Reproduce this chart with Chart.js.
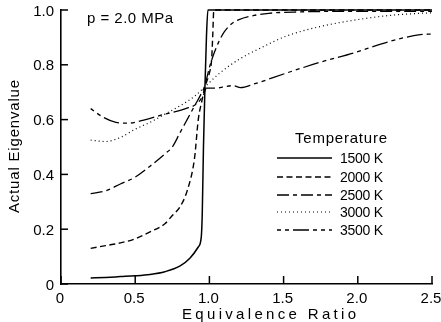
<!DOCTYPE html>
<html>
<head>
<meta charset="utf-8">
<script src="https://cdn.jsdelivr.net/npm/chart.js@4"></script>
<style>
  html, body { margin: 0; padding: 0; background: #fff; }
</style>
</head>
<body>
<canvas id="chart" width="441" height="322"></canvas>
<script>
// axis ticks
const xTicks = [0, 0.5, 1.0, 1.5, 2.0, 2.5];
const xTickLabels = ['0', '0.5', '1.0', '1.5', '2.0', '2.5'];
const yTicks = [0, 0.2, 0.4, 0.6, 0.8, 1.0];
const yTickLabels = ['0', '0.2', '0.4', '0.6', '0.8', '1.0'];

const temperatures = ['1500 K', '2000 K', '2500 K', '3000 K', '3500 K'];

// values (equivalence ratio / eigenvalue)
const phi1500 = [0.2, 0.3, 0.4, 0.5, 0.6, 0.7, 0.8, 0.87, 0.925, 0.945, 0.952, 0.96, 0.97, 0.98, 0.99, 1.5, 2.0, 2.5];
const eig1500 = [0.022, 0.024, 0.027, 0.03, 0.035, 0.045, 0.065, 0.095, 0.135, 0.17, 0.26, 0.5, 0.72, 0.9, 1.0, 1.0, 1.0, 1.0];

const phi2000 = [0.2, 0.3, 0.4, 0.5, 0.6, 0.7, 0.75, 0.8, 0.85, 0.9, 0.925, 0.95, 0.97, 1.0, 1.015, 1.022, 1.03, 1.5, 2.0, 2.5];
const eig2000 = [0.13, 0.14, 0.15, 0.165, 0.19, 0.22, 0.25, 0.28, 0.34, 0.46, 0.6, 0.67, 0.72, 0.77, 0.82, 0.9, 1.0, 1.0, 1.0, 1.0];

const phi2500 = [0.2, 0.3, 0.4, 0.5, 0.6, 0.7, 0.75, 0.8, 0.85, 0.9, 0.95, 0.97, 1.0, 1.03, 1.06, 1.1, 1.15, 1.2, 1.3, 1.4, 1.6, 2.0, 2.5];
const eig2500 = [0.33, 0.34, 0.365, 0.39, 0.43, 0.475, 0.5, 0.55, 0.6, 0.65, 0.7, 0.725, 0.79, 0.84, 0.88, 0.92, 0.95, 0.965, 0.98, 0.988, 0.993, 0.995, 0.995];

const phi3000 = [0.2, 0.3, 0.4, 0.5, 0.6, 0.7, 0.8, 0.9, 0.97, 1.07, 1.2, 1.34, 1.52, 1.75, 2.0, 2.25, 2.5];
const eig3000 = [0.525, 0.52, 0.535, 0.565, 0.59, 0.62, 0.65, 0.685, 0.72, 0.77, 0.82, 0.86, 0.905, 0.94, 0.965, 0.982, 0.99];

const phi3500 = [0.2, 0.28, 0.37, 0.45, 0.57, 0.68, 0.84, 0.92, 0.96, 0.98, 1.05, 1.1, 1.16, 1.21, 1.3, 1.52, 1.75, 1.97, 2.2, 2.42, 2.5];
const eig3500 = [0.64, 0.61, 0.59, 0.587, 0.6, 0.617, 0.64, 0.66, 0.69, 0.715, 0.715, 0.72, 0.724, 0.717, 0.73, 0.77, 0.81, 0.843, 0.883, 0.91, 0.912];

const FONT = '"Liberation Sans", Arial, Helvetica, sans-serif';

function toPoints(xs, ys) {
    return xs.map((x, i) => ({ x: x, y: ys[i] }));
}

function makeSet(label, xs, ys, dash, width) {
    return {
        label: label,
        data: toPoints(xs, ys),
        borderColor: '#000',
        borderWidth: width,
        borderDash: dash,
        pointRadius: 0,
        fill: false,
        cubicInterpolationMode: 'monotone',
        clip: false
    };
}

// draw text stretched to the width it has in the picture
function fitText(ctx, text, x, y, width) {
    ctx.letterSpacing = '0px';
    const w = ctx.measureText(text).width;
    const sp = text.length > 1 ? (width - w) / (text.length - 1) : 0;
    ctx.letterSpacing = sp.toFixed(2) + 'px';
    ctx.textAlign = 'left';
    ctx.fillText(text, x, y);
    ctx.letterSpacing = '0px';
}

const decorPlugin = {
    id: 'decor',
    afterDatasetsDraw(chart) {
        const ctx = chart.ctx;
        const xs = chart.scales.x;
        const ys = chart.scales.y;
        const area = chart.chartArea;
        ctx.save();
        ctx.strokeStyle = '#000';
        ctx.fillStyle = '#000';
        ctx.lineWidth = 1.5;

        // inward ticks
        xTicks.forEach(v => {
            const px = xs.getPixelForValue(v);
            ctx.beginPath();
            ctx.moveTo(px, area.bottom);
            ctx.lineTo(px, area.bottom - 8);
            ctx.stroke();
        });
        yTicks.forEach(v => {
            const py = ys.getPixelForValue(v);
            ctx.beginPath();
            ctx.moveTo(area.left, py);
            ctx.lineTo(area.left + 7, py);
            ctx.stroke();
        });

        // tick labels
        ctx.font = '15px ' + FONT;
        ctx.textBaseline = 'alphabetic';
        xTicks.forEach((v, i) => {
            const px = xs.getPixelForValue(v);
            ctx.textAlign = 'center';
            ctx.fillText(xTickLabels[i], px - 1, 303);
        });
        yTicks.forEach((v, i) => {
            const py = ys.getPixelForValue(v);
            ctx.textAlign = 'right';
            ctx.fillText(yTickLabels[i], 54, py + 5.5);
        });

        // axis titles
        fitText(ctx, 'Equivalence Ratio', 182, 319, 174);
        ctx.save();
        ctx.translate(19, 213);
        ctx.rotate(-Math.PI / 2);
        fitText(ctx, 'Actual Eigenvalue', 0, 0, 133);
        ctx.restore();

        // pressure note
        fitText(ctx, 'p = 2.0 MPa', 87, 23, 86);

        // legend
        fitText(ctx, 'Temperature', 295, 143, 92);
        const rows = [158, 177, 195, 212, 230];
        ctx.font = '14px ' + FONT;
        chart.data.datasets.forEach((ds, i) => {
            ctx.save();
            ctx.lineWidth = ds.borderWidth;
            ctx.setLineDash(ds.borderDash || []);
            ctx.beginPath();
            ctx.moveTo(277, rows[i]);
            ctx.lineTo(332, rows[i]);
            ctx.stroke();
            ctx.restore();
            fitText(ctx, ds.label, 340, rows[i] + 5, 43);
        });
        ctx.restore();
    }
};

new Chart(document.getElementById('chart'), {
    type: 'line',
    data: {
        datasets: [
            makeSet(temperatures[0], phi1500, eig1500, [], 1.5),
            makeSet(temperatures[1], phi2000, eig2000, [6, 3.5], 1.4),
            makeSet(temperatures[2], phi2500, eig2500, [12, 4, 4, 4], 1.3),
            makeSet(temperatures[3], phi3000, eig3000, [1, 3], 1.2),
            makeSet(temperatures[4], phi3500, eig3500, [4, 4, 4, 4, 16, 4], 1.3)
        ]
    },
    plugins: [decorPlugin],
    options: {
        responsive: false,
        animation: false,
        devicePixelRatio: 1,
        layout: { padding: { top: 10, right: 9, left: 0, bottom: 0 } },
        plugins: {
            legend: { display: false },
            tooltip: { enabled: false }
        },
        scales: {
            x: {
                type: 'linear',
                min: 0,
                max: 2.5,
                ticks: { display: false },
                grid: { drawOnChartArea: false, drawTicks: false },
                border: { display: true, color: '#000', width: 1.6 },
                afterFit(scale) { scale.height = 38; }
            },
            y: {
                type: 'linear',
                min: 0,
                max: 1.0,
                ticks: { display: false },
                grid: { drawOnChartArea: false, drawTicks: false },
                border: { display: true, color: '#000', width: 1.6 },
                afterFit(scale) { scale.width = 61; }
            }
        }
    }
});
</script>
</body>
</html>
